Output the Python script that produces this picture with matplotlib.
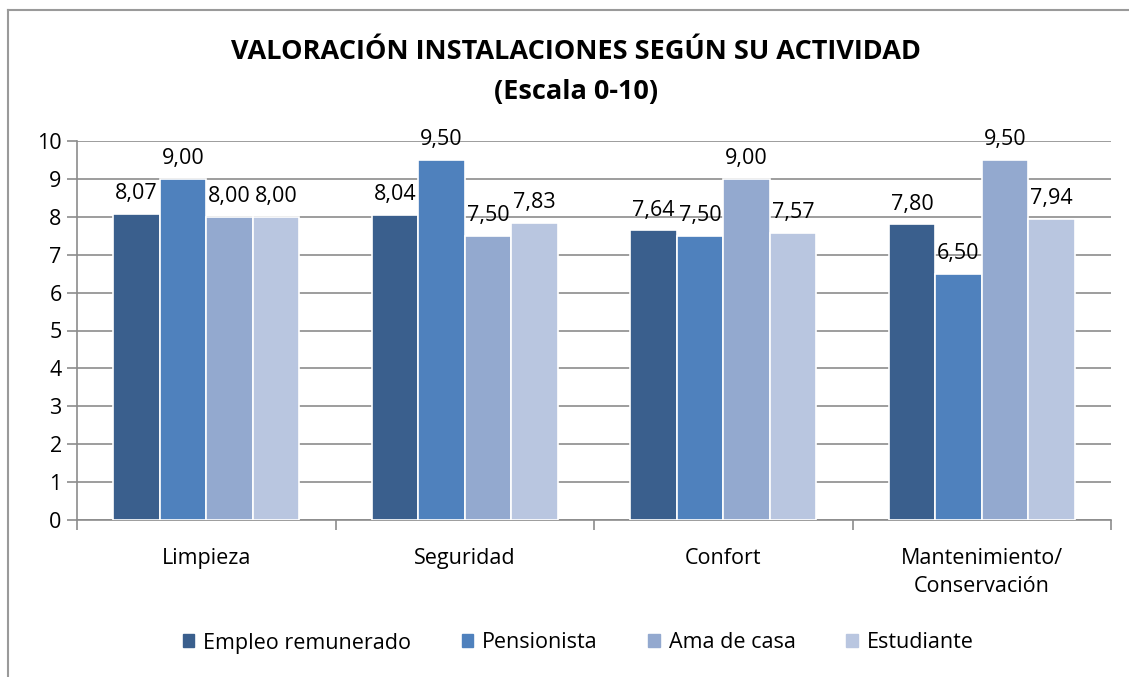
import numpy as np
import matplotlib
matplotlib.use('Agg')
import matplotlib.pyplot as plt
from matplotlib.lines import Line2D

categories = ['Limpieza', 'Seguridad', 'Confort', 'Mantenimiento/\nConservación']
series_names = ['Empleo remunerado', 'Pensionista', 'Ama de casa', 'Estudiante']
empleo = [8.07, 8.04, 7.64, 7.80]
pensionista = [9.00, 9.50, 7.50, 6.50]
ama_casa = [8.00, 7.50, 9.00, 9.50]
estudiante = [8.00, 7.83, 7.57, 7.94]
series_values = [empleo, pensionista, ama_casa, estudiante]
yticks = list(range(0, 11))

colors = ['#3A5F8D', '#4F81BD', '#93A9CF', '#B9C6E0']

plt.rcParams['font.family'] = ['Open Sans', 'DejaVu Sans']

fig = plt.figure(figsize=(11.29, 6.77), dpi=100)
ax = fig.add_axes([77 / 1129, 1 - 520 / 677, (1111 - 77) / 1129, (520 - 141) / 677])

x = np.arange(len(categories))
gap = 0.28
bw = (1 - gap) / len(series_names)
for i, (name, vals) in enumerate(zip(series_names, series_values)):
    pos = x - (1 - gap) / 2 + bw * (i + 0.5)
    bars = ax.bar(pos, vals, width=bw, color=colors[i], edgecolor='white',
                  linewidth=1.2, label=name, zorder=3)
    for b, v in zip(bars, vals):
        ax.text(b.get_x() + b.get_width() / 2, v + 0.26,
                f'{v:.2f}'.replace('.', ','), ha='center', va='bottom',
                fontsize=15.5, zorder=4)

ax.set_xlim(-0.5, len(categories) - 0.5)
ax.set_ylim(0, 10)
ax.set_yticks(yticks)
ax.set_yticklabels([str(t) for t in yticks], fontsize=15.5)
ax.yaxis.grid(True, color='#8C8C8C', lw=1.2, zorder=0)
ax.tick_params(axis='y', length=7, color='#8C8C8C', width=1.2, pad=4)

ax.set_xticks(x)
ax.set_xticklabels(categories, fontsize=15.5, linespacing=1.45)
ax.tick_params(axis='x', length=0, pad=20)
ax.set_xticks(np.arange(-0.5, len(categories)), minor=True)
ax.tick_params(axis='x', which='minor', length=7, color='#8C8C8C', width=1.2)

for s in ['top', 'right']:
    ax.spines[s].set_visible(False)
for s in ['left', 'bottom']:
    ax.spines[s].set_color('#8C8C8C')
    ax.spines[s].set_linewidth(1.2)

fig.text(0.51, 1 - 52 / 677, 'VALORACIÓN INSTALACIONES SEGÚN SU ACTIVIDAD',
         ha='center', va='center', fontsize=19.5, fontweight='bold')
fig.text(0.51, 1 - 92 / 677, '(Escala 0-10)',
         ha='center', va='center', fontsize=19.5, fontweight='bold')

handles = [plt.Rectangle((0, 0), 1, 1, color=c) for c in colors]
fig.legend(handles, series_names, loc='center', bbox_to_anchor=(0.512, 1 - 643 / 677),
           ncol=4, frameon=False, fontsize=15.5, handlelength=0.55, handleheight=0.55,
           handletextpad=0.4, columnspacing=2.35)

# chart frame
fig.add_artist(Line2D([8 / 1129, 1.0], [1 - 10 / 677, 1 - 10 / 677],
                      transform=fig.transFigure, color='#9A9A9A', lw=1.5))
fig.add_artist(Line2D([8 / 1129, 8 / 1129], [0.0, 1 - 10 / 677],
                      transform=fig.transFigure, color='#9A9A9A', lw=1.5))

fig.savefig('out.png', dpi=100)
